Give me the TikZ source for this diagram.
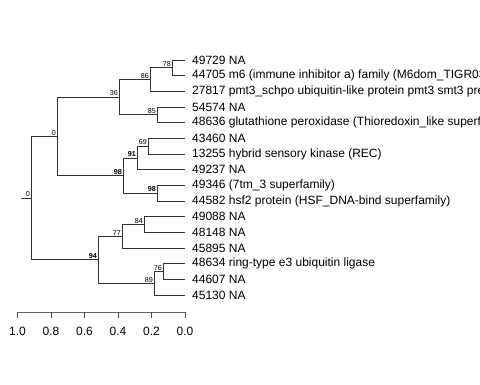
\documentclass[tikz,border=0pt]{standalone}
\usepackage{fontspec}
\setmainfont{Liberation Sans}
\usetikzlibrary{positioning}

\begin{document}
\begin{tikzpicture}[
    x=1pt, y=-1pt,
    branch/.style={draw=black!80, line width=0.8pt},
    leaf/.style={
        inner sep=0pt,
        font=\fontsize{12}{12}\selectfont
    },
    boot/.style={
        anchor=south east,
        inner sep=1pt,
        font=\fontsize{7.2}{7.2}\selectfont
    },
    strong/.style={boot, font=\fontsize{7.2}{7.2}\selectfont\bfseries},
    scalelab/.style={font=\fontsize{12}{12}\selectfont, inner sep=0pt}
    ]
\useasboundingbox (0,0) rectangle (480,384);
\clip (0,0) rectangle (480,384);

% tips and their labels
\foreach \lab [count=\i] in {
    {49729 NA},
    {44705 m6 (immune inhibitor a) family (M6dom\_TIGR03296 superfamily)},
    {27817 pmt3\_schpo ubiquitin-like protein pmt3 smt3 precursor},
    {54574 NA},
    {48636 glutathione peroxidase (Thioredoxin\_like superfamily)},
    {43460 NA},
    {13255 hybrid sensory kinase (REC)},
    {49237 NA},
    {49346 (7tm\_3 superfamily)},
    {44582 hsf2 protein (HSF\_DNA-bind superfamily)},
    {49088 NA},
    {48148 NA},
    {45895 NA},
    {48634 ring-type e3 ubiquitin ligase},
    {44607 NA},
    {45130 NA}}
{
    \coordinate (t\i) at (185, {60+15.67*(\i-1)});
    \node[leaf, right=7pt of t\i] (l\i) {\lab};
}

% inner nodes
\coordinate (n78) at (172, 67.8);
\coordinate (n86) at (150, 79.6);
\coordinate (n85) at (157, 114.8);
\coordinate (n36) at (119, 97.2);
\coordinate (n69) at (148, 146.2);
\coordinate (n91) at (137, 157.9);
\coordinate (n98b) at (157, 193.2);
\coordinate (n98a) at (123, 175.5);
\coordinate (n0a) at (57, 136.4);
\coordinate (n84) at (144, 224.5);
\coordinate (n77) at (122, 236.3);
\coordinate (n76) at (163, 271.5);
\coordinate (n89) at (154, 283.3);
\coordinate (n94) at (98, 259.8);
\coordinate (root) at (31, 198.1);
\coordinate (stub) at (21, 198.1);

\foreach \p/\c in {n78/t1, n78/t2, n86/n78, n86/t3, n85/t4, n85/t5,
    n36/n86, n36/n85, n69/t6, n69/t7, n91/n69, n91/t8, n98b/t9, n98b/t10,
    n98a/n91, n98a/n98b, n0a/n36, n0a/n98a, n84/t11, n84/t12, n77/n84,
    n77/t13, n76/t14, n76/t15, n89/n76, n89/t16, n94/n77, n94/n89,
    root/n0a, root/n94}
    \draw[branch] (\p) |- (\c);
\draw[branch] (stub) -- (root);

% support values
\foreach \n/\v in {n78/78, n86/86, n85/85, n36/36, n69/69, n0a/0,
    n84/84, n77/77, n76/76, n89/89, root/0}
    \node[boot] (b\n) at (\n) {\v};
\foreach \n/\v in {n91/91, n98a/98, n98b/98, n94/94}
    \node[strong] (b\n) at (\n) {\v};

% scale
\coordinate (s1) at (17.5, 312);
\coordinate (s0) at (185, 312);
\draw[black!60, line width=0.8pt] (s1) -- (s0);
\foreach \v [count=\k] in {1.0, 0.8, 0.6, 0.4, 0.2, 0.0} {
    \coordinate (tk\k) at ({17.5+33.5*(\k-1)}, 312);
    \draw[black!70, line width=0.8pt] (tk\k) -- ++(0,6);
    \node[scalelab, below=15pt of tk\k] (sl\k) {\v};
}
\end{tikzpicture}
\end{document}
